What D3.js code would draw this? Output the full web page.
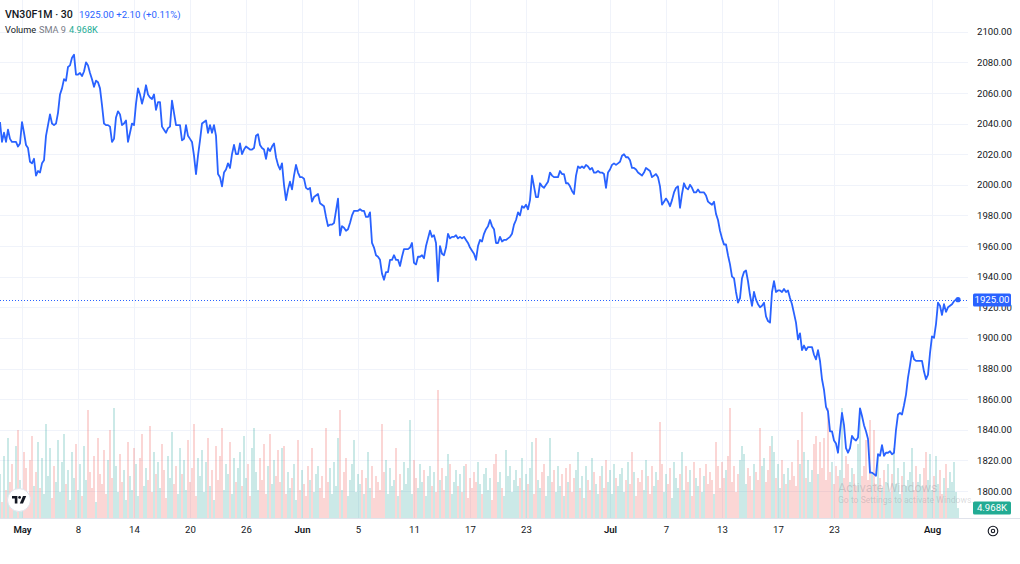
<!DOCTYPE html>
<html>
<head>
<meta charset="utf-8">
<script src="https://cdn.jsdelivr.net/npm/d3@7"></script>
<style>
  html, body { margin: 0; padding: 0; background: #fff; overflow: hidden; }
  svg { display: block; font-family: Roboto, "Liberation Sans", sans-serif; }
</style>
</head>
<body>
<div id="app"></div>
<script>
// 30 minute closes, VN30F1M
const prices = [
  2041, 2028, 2034, 2028, 2036, 2030, 2028, 2028, 2028, 2025,
  2027, 2041, 2034, 2026, 2024, 2015, 2014, 2017, 2006, 2009,
  2008, 2014, 2016, 2032, 2039, 2046, 2040, 2039, 2040, 2047,
  2059, 2063, 2069, 2068, 2077, 2078, 2083, 2085, 2072, 2072,
  2073, 2071, 2074, 2080, 2078, 2073, 2069, 2064, 2068, 2067,
  2063, 2052, 2040, 2039, 2039, 2038, 2028, 2030, 2044, 2048,
  2046, 2039, 2040, 2042, 2028, 2034, 2040, 2039, 2053, 2063,
  2059, 2053, 2058, 2065, 2059, 2057, 2056, 2059, 2049, 2054,
  2054, 2038, 2036, 2034, 2037, 2038, 2055, 2047, 2039, 2039,
  2039, 2029, 2030, 2039, 2032, 2030, 2028, 2019, 2007, 2019,
  2029, 2040, 2041, 2042, 2034, 2039, 2034, 2039, 2032, 2007,
  2005, 1999, 2008, 2010, 2014, 2011, 2020, 2026, 2020, 2020,
  2027, 2020, 2023, 2025, 2024, 2023, 2023, 2024, 2032, 2033,
  2026, 2024, 2023, 2017, 2024, 2022, 2025, 2027, 2018, 2013,
  2010, 2014, 2000, 1990, 1997, 2002, 1997, 2006, 2013, 2008,
  2005, 2005, 2004, 1998, 1997, 1998, 1989, 1992, 1993, 1994,
  1988, 1987, 1986, 1979, 1973, 1974, 1974, 1975, 1983, 1991,
  1967, 1973, 1972, 1970, 1971, 1975, 1980, 1983, 1983, 1983,
  1984, 1983, 1983, 1979, 1979, 1982, 1962, 1959, 1954, 1953,
  1951, 1942, 1938, 1943, 1943, 1951, 1951, 1954, 1951, 1951,
  1947, 1953, 1958, 1958, 1958, 1959, 1962, 1949, 1948, 1953,
  1953, 1954, 1952, 1960, 1965, 1970, 1966, 1967, 1962, 1937,
  1960, 1955, 1954, 1959, 1968, 1965, 1966, 1966, 1967, 1965,
  1966, 1965, 1966, 1964, 1962, 1959, 1957, 1955, 1951, 1960,
  1964, 1963, 1968, 1971, 1973, 1977, 1973, 1971, 1962, 1962,
  1966, 1963, 1964, 1964, 1965, 1966, 1968, 1974, 1977, 1982,
  1980, 1986, 1985, 1987, 1984, 1990, 2006, 1999, 1992, 1992,
  2001, 1999, 1998, 2000, 2002, 2008, 2006, 2005, 2005, 2005,
  2009, 2007, 2007, 2001, 2001, 1999, 1996, 1994, 2006, 2012,
  2011, 2012, 2011, 2013, 2012, 2010, 2011, 2008, 2008, 2009,
  2008, 2008, 2007, 1998, 2008, 2010, 2013, 2014, 2013, 2014,
  2015, 2019, 2020, 2018, 2018, 2016, 2011, 2011, 2010, 2008,
  2007, 2006, 2008, 2011, 2010, 2009, 2005, 2006, 2007, 2005,
  1999, 1987, 1989, 1991, 1989, 1986, 1990, 1995, 1998, 1999,
  1985, 1994, 2001, 1998, 1997, 2000, 1998, 1995, 1995, 1997,
  1995, 1995, 1995, 1993, 1989, 1988, 1987, 1989, 1981, 1977,
  1970, 1965, 1961, 1961, 1954, 1948, 1940, 1939, 1930, 1923,
  1926, 1939, 1943, 1944, 1937, 1928, 1921, 1930, 1925, 1922,
  1920, 1921, 1923, 1914, 1911, 1910, 1930, 1937, 1930, 1931,
  1931, 1930, 1932, 1930, 1931, 1926, 1922, 1916, 1910, 1899,
  1903, 1892, 1895, 1892, 1894, 1894, 1894, 1889, 1886, 1892,
  1885, 1873, 1866, 1855, 1852, 1839, 1839, 1833, 1831, 1825,
  1839, 1851, 1843, 1828, 1825, 1828, 1836, 1834, 1833, 1835,
  1854, 1849, 1843, 1839, 1834, 1812, 1812, 1811, 1810, 1824,
  1823, 1830, 1823, 1825, 1825, 1826, 1824, 1825, 1840, 1850,
  1851, 1850, 1856, 1863, 1874, 1882, 1891, 1886, 1885, 1885,
  1885, 1885, 1878, 1873, 1876, 1890, 1901, 1900, 1909, 1923,
  1921, 1915, 1922, 1917, 1920, 1921, 1922, 1924, 1925, 1925
]

// volume per bar, thousands of contracts (estimated)
const volumes = [
  22, 8, 31, 14, 40, 18, 27, 11, 36, 44, 19, 9, 33, 25, 12, 29, 41, 16, 23, 38,
  15, 30, 12, 47, 21, 35, 10, 26, 18, 39, 13, 28, 42, 17, 24, 9, 33, 20, 37, 14,
  27, 11, 36, 19, 54, 23, 15, 31, 8, 40, 22, 17, 34, 12, 29, 44, 20, 55, 26, 13,
  32, 18, 24, 9, 38, 21, 14, 35, 27, 11, 30, 42, 16, 25, 19, 46, 13, 33, 22, 28,
  15, 37, 24, 10, 31, 20, 43, 17, 26, 12, 35, 22, 29, 14, 39, 18, 25, 47, 11, 30,
  21, 34, 13, 28, 40, 16, 24, 9, 36, 19, 31, 45, 14, 27, 22, 38, 12, 30, 18, 25,
  33, 16, 41, 20, 27, 11, 35, 45, 23, 14, 30, 19, 37, 12, 26, 42, 17, 29, 21, 34,
  18, 35, 36, 12, 23, 15, 20, 27, 9, 39, 14, 24, 17, 11, 26, 19, 35, 13, 22, 26,
  15, 21, 10, 45, 18, 25, 12, 28, 16, 40, 54, 14, 23, 30, 11, 19, 27, 39, 13, 22,
  17, 24, 12, 20, 33, 15, 26, 10, 21, 18, 14, 47, 23, 29, 12, 25, 16, 19, 35, 11,
  22, 14, 28, 17, 25, 49, 12, 29, 20, 15, 27, 18, 24, 11, 21, 26, 16, 23, 13, 64,
  19, 25, 14, 21, 32, 27, 12, 18, 24, 16, 22, 13, 26, 27, 10, 20, 15, 23, 18, 28,
  17, 12, 22, 25, 14, 20, 9, 27, 32, 18, 23, 15, 11, 34, 21, 26, 13, 19, 24, 16,
  20, 30, 14, 22, 17, 25, 38, 12, 40, 19, 15, 23, 27, 11, 21, 40, 18, 24, 13, 26,
  16, 22, 11, 25, 18, 27, 13, 20, 24, 33, 15, 21, 10, 26, 19, 14, 30, 23, 17, 12,
  21, 26, 15, 29, 18, 24, 12, 27, 20, 16, 22, 25, 13, 19, 28, 17, 33, 23, 11, 20,
  18, 24, 14, 29, 21, 12, 26, 16, 23, 19, 48, 27, 13, 22, 17, 25, 10, 28, 20, 15,
  22, 33, 14, 26, 18, 24, 11, 28, 20, 16, 25, 13, 21, 27, 17, 23, 19, 12, 38, 26,
  15, 28, 20, 24, 31, 55, 18, 26, 13, 22, 29, 36, 32, 17, 25, 21, 14, 27, 23, 19,
  45, 26, 30, 18, 24, 36, 41, 33, 20, 27, 15, 29, 22, 17, 25, 19, 28, 21, 16, 39,
  27, 53, 33, 20, 29, 18, 24, 37, 41, 22, 38, 25, 40, 19, 55, 23, 28, 17, 26, 21,
  24, 55, 20, 31, 27, 18, 25, 22, 16, 37, 55, 21, 26, 39, 19, 49, 23, 44, 17, 32,
  20, 15, 24, 18, 27, 13, 22, 35, 17, 25, 12, 21, 28, 16, 19, 23, 35, 14, 26, 18,
  22, 16, 25, 33, 19, 32, 14, 21, 31, 17, 24, 12, 20, 27, 15, 23, 18, 28, 13, 4.968
]

// time axis: label text and trading-day number counted from May 4
const tickLabels = ['May', '8', '14', '20', '26', 'Jun', '5', '11', '17', '23', 'Jul', '7', '13', '17', '23', 'Aug']
const tickDays = [0, 4, 8, 12, 16, 20, 24, 28, 32, 36, 42, 46, 50, 54, 58, 65]
const monthLabels = ['May', 'Jun', 'Jul', 'Aug']
const priceTicks = [1800, 1820, 1840, 1860, 1880, 1900, 1920, 1940, 1960, 1980, 2000, 2020, 2040, 2060, 2080, 2100]

const barsPerDay = 7
const firstDayBar = 11
const symbol = 'VN30F1M · 30'
const change = '+2.10 (+0.11%)'

const width = 1020
const height = 564
const plotRight = 968
const plotBottom = 518
const blue = '#2962ff'
const teal = '#22ab94'

const x = d3.scaleLinear().domain([0, prices.length - 1]).range([0, 958])
const y = d3.scaleLinear().domain([1800, 2100]).range([491, 31.7])
const yVol = d3.scaleLinear().domain([0, 68]).range([plotBottom, plotBottom - 136])

const tickBars = tickDays.map(d => firstDayBar + d * barsPerDay)
const fmt = d3.format('.2f')
const last = prices[prices.length - 1]
const lastVol = volumes[volumes.length - 1]

const svg = d3.select('#app').append('svg')
    .attr('width', width)
    .attr('height', height)

// grid
const grid = svg.append('g')
grid.selectAll('.hg').data(priceTicks).join('line')
    .attr('x1', 0).attr('x2', plotRight)
    .attr('y1', d => Math.round(y(d)) + 0.5).attr('y2', d => Math.round(y(d)) + 0.5)
    .attr('stroke', '#f0f3fa')
grid.selectAll('.vg').data(tickBars).join('line')
    .attr('x1', d => Math.round(x(d)) + 0.5).attr('x2', d => Math.round(x(d)) + 0.5)
    .attr('y1', 0).attr('y2', plotBottom)
    .attr('stroke', '#f0f3fa')

// volume bars, coloured by direction of the close
svg.append('g').selectAll('rect').data(volumes).join('rect')
    .attr('x', (d, i) => x(i) - 0.5)
    .attr('width', 1)
    .attr('y', d => yVol(d))
    .attr('height', d => plotBottom - yVol(d))
    .attr('fill', (d, i) => (i === 0 || prices[i] >= prices[i - 1]) ? 'rgba(38,166,154,0.48)' : 'rgba(239,83,80,0.48)')

// watermark text that sits on the screenshot
const wm = svg.append('g').attr('fill', 'rgba(120,123,134,0.28)')
wm.append('text').attr('x', 838).attr('y', 492).attr('font-size', 12.5).text('Activate Windows')
wm.append('text').attr('x', 838).attr('y', 503).attr('font-size', 8.6).text('Go to Settings to activate Windows.')

// last price dotted line
svg.append('line')
    .attr('x1', 0).attr('x2', plotRight)
    .attr('y1', Math.round(y(last)) + 0.5).attr('y2', Math.round(y(last)) + 0.5)
    .attr('stroke', blue).attr('stroke-dasharray', '1,2').attr('stroke-width', 1)

// price line
const line = d3.line().x((d, i) => x(i)).y(d => y(d))
svg.append('path')
    .datum(prices)
    .attr('d', line)
    .attr('fill', 'none')
    .attr('stroke', blue)
    .attr('stroke-width', 1.8)
    .attr('stroke-linejoin', 'round')

svg.append('circle')
    .attr('cx', x(prices.length - 1)).attr('cy', y(last))
    .attr('r', 2.6).attr('fill', blue)

// bottom border of the pane
svg.append('line')
    .attr('x1', 0).attr('x2', width)
    .attr('y1', plotBottom + 0.5).attr('y2', plotBottom + 0.5)
    .attr('stroke', '#e0e3eb')

// price scale
const yAxis = svg.append('g')
    .attr('transform', `translate(977,0)`)
    .call(d3.axisRight(y).tickValues(priceTicks).tickFormat(fmt).tickSize(0).tickPadding(0))
yAxis.select('.domain').remove()
yAxis.selectAll('text').attr('font-size', 9.6).attr('fill', '#131722').attr('font-family', 'Roboto, sans-serif')

// time scale
const xAxis = svg.append('g')
    .attr('transform', `translate(0,${plotBottom})`)
    .call(d3.axisBottom(x).tickValues(tickBars).tickFormat((d, i) => tickLabels[i]).tickSize(0).tickPadding(8))
xAxis.select('.domain').remove()
xAxis.selectAll('text')
    .attr('font-size', 9.6)
    .attr('fill', '#131722')
    .attr('font-family', 'Roboto, sans-serif')
    .attr('font-weight', (d, i) => monthLabels.includes(tickLabels[i]) ? 600 : 400)

// value tags on the price scale
function tag(value, text, color) {
    const g = svg.append('g').attr('transform', `translate(973,${Math.round(value)})`)
    g.append('rect').attr('x', 0).attr('y', -6.5).attr('width', 38).attr('height', 13).attr('rx', 1.5).attr('fill', color)
    g.append('text').attr('x', 19).attr('y', 3.4).attr('text-anchor', 'middle')
        .attr('font-size', 9.6).attr('fill', '#fff').text(text)
}
tag(y(last), fmt(last), blue)
tag(yVol(lastVol), d3.format('.3f')(lastVol) + 'K', teal)

// legend
const head = svg.append('g')
head.append('text').attr('x', 5).attr('y', 17.5).attr('font-size', 10.6).attr('font-weight', 500)
    .attr('fill', '#131722').text(symbol)
head.append('text').attr('x', 79).attr('y', 17.5).attr('font-size', 9.6).attr('fill', blue)
    .text(fmt(last) + '  ' + change)
head.append('text').attr('x', 5).attr('y', 32.5).attr('font-size', 9.2).attr('fill', '#131722').text('Volume')
head.append('text').attr('x', 39).attr('y', 32.5).attr('font-size', 9.2).attr('fill', '#787b86').text('SMA 9')
head.append('text').attr('x', 69).attr('y', 32.5).attr('font-size', 9.2).attr('fill', teal)
    .text(d3.format('.3f')(lastVol) + 'K')

// TradingView logo badge
const logo = svg.append('g').attr('transform', 'translate(19,500)')
logo.append('circle').attr('r', 11.5).attr('fill', '#fff').attr('stroke', '#e0e3eb')
logo.append('path').attr('d', 'M-7,-4 H-1.6 V3.5 H-4.2 V-1.6 H-7 Z').attr('fill', '#131722')
logo.append('circle').attr('cx', 0.6).attr('cy', -2.6).attr('r', 1.4).attr('fill', '#131722')
logo.append('path').attr('d', 'M0.8,3.5 L4,-4 H7.2 L4,3.5 Z').attr('fill', '#131722')

// settings button
const gear = svg.append('g').attr('transform', 'translate(993,531)')
gear.append('circle').attr('r', 4.8).attr('fill', 'none').attr('stroke', '#131722').attr('stroke-width', 1.1)
gear.append('circle').attr('r', 1.7).attr('fill', 'none').attr('stroke', '#131722').attr('stroke-width', 1.1)
</script>
</body>
</html>
